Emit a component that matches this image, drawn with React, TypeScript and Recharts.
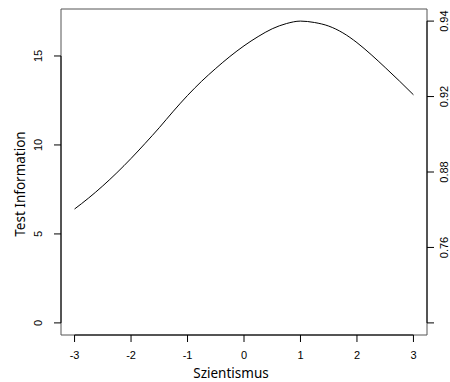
import { LineChart, Line, XAxis, YAxis, ReferenceArea, ReferenceLine } from 'recharts';

// test information curve, read at steps of 0.25 on the trait scale
const theta = [
  -3, -2.75, -2.5, -2.25, -2, -1.75, -1.5, -1.25, -1, -0.75, -0.5, -0.25, 0,
  0.25, 0.5, 0.75, 1, 1.25, 1.5, 1.75, 2, 2.25, 2.5, 2.75, 3,
];
const information = [
  6.4, 7.02, 7.7, 8.44, 9.24, 10.09, 10.97, 11.9, 12.78, 13.58, 14.3, 14.97, 15.57,
  16.09, 16.53, 16.82, 16.96, 16.88, 16.68, 16.3, 15.75, 15.08, 14.35, 13.6, 12.82,
];

const xTicks = [-3, -2, -1, 0, 1, 2, 3];
const infoTicks = [0, 5, 10, 15];
// right axis: reliability 1 - 1/info at even steps of information
const relTicks = [0, 4.24, 8.48, 12.72, 16.96];
const relLabels = ['', '0.76', '0.88', '0.92', '0.94'];

const X_DOMAIN: [number, number] = [-3.24, 3.24];
const Y_DOMAIN: [number, number] = [-0.68, 17.64];

const data = theta.map((t, i) => ({ theta: t, info: information[i] }));

const tickFont = { fontFamily: '"Liberation Sans", Arial, sans-serif', fontSize: 11, fill: '#000' };
const titleFont = { fontFamily: '"Noto Sans", sans-serif', fontSize: 13.5, fill: '#000' };

function BottomTick({ x, payload }: any) {
  return (
    <text x={x} y={359} textAnchor="middle" {...tickFont}>
      {payload.value}
    </text>
  );
}

function LeftTick({ y, payload }: any) {
  return (
    <text x={42} y={y} transform={`rotate(-90 42 ${y})`} textAnchor="middle" {...tickFont}>
      {payload.value}
    </text>
  );
}

function RightTick({ y, payload, index }: any) {
  const label = relLabels[relTicks.indexOf(payload.value)] ?? relLabels[index];
  return (
    <text x={448} y={y} transform={`rotate(-90 448 ${y})`} textAnchor="middle" {...tickFont}>
      {label}
    </text>
  );
}

export default function App() {
  return (
    <div style={{ width: 450, height: 382, background: '#fff' }}>
      <style>{'body{margin:0}'}</style>
      <LineChart
        width={450}
        height={382}
        data={data}
        margin={{ top: 9, right: 0, bottom: 0, left: 21 }}
      >
        <XAxis
          type="number"
          dataKey="theta"
          domain={X_DOMAIN}
          ticks={xTicks}
          allowDataOverflow
          height={47}
          axisLine={false}
          tickSize={7}
          tickLine={{ stroke: '#000' }}
          tick={<BottomTick />}
          label={{
            content: () => (
              <text x={231} y={378} textAnchor="middle" {...titleFont}>
                Szientismus
              </text>
            ),
          }}
        />
        <YAxis
          yAxisId="left"
          type="number"
          domain={Y_DOMAIN}
          ticks={infoTicks}
          allowDataOverflow
          width={40}
          axisLine={false}
          tickSize={7}
          tickLine={{ stroke: '#000' }}
          tick={<LeftTick />}
          label={{
            content: () => (
              <text x={25} y={184} transform="rotate(-90 25 184)" textAnchor="middle" {...titleFont}>
                Test Information
              </text>
            ),
          }}
        />
        <YAxis
          yAxisId="right"
          orientation="right"
          type="number"
          domain={Y_DOMAIN}
          ticks={relTicks}
          allowDataOverflow
          width={23}
          axisLine={false}
          tickSize={7}
          tickLine={{ stroke: '#000' }}
          tick={<RightTick />}
        />
        {/* plot frame */}
        <ReferenceArea
          yAxisId="left"
          x1={X_DOMAIN[0]}
          x2={X_DOMAIN[1]}
          y1={Y_DOMAIN[0]}
          y2={Y_DOMAIN[1]}
          stroke="#555"
          strokeWidth={1}
          fill="none"
          fillOpacity={0}
          ifOverflow="visible"
        />
        <ReferenceLine
          yAxisId="left"
          segment={[{ x: xTicks[0], y: Y_DOMAIN[0] }, { x: xTicks[xTicks.length - 1], y: Y_DOMAIN[0] }]}
          stroke="#000"
          ifOverflow="visible"
        />
        <ReferenceLine
          yAxisId="left"
          segment={[{ x: X_DOMAIN[0], y: infoTicks[0] }, { x: X_DOMAIN[0], y: infoTicks[infoTicks.length - 1] }]}
          stroke="#000"
          ifOverflow="visible"
        />
        <ReferenceLine
          yAxisId="right"
          segment={[{ x: X_DOMAIN[1], y: relTicks[0] }, { x: X_DOMAIN[1], y: relTicks[relTicks.length - 1] }]}
          stroke="#000"
          ifOverflow="visible"
        />
        <Line
          yAxisId="left"
          type="monotone"
          dataKey="info"
          stroke="#000"
          strokeWidth={1}
          dot={false}
          isAnimationActive={false}
        />
      </LineChart>
    </div>
  );
}
